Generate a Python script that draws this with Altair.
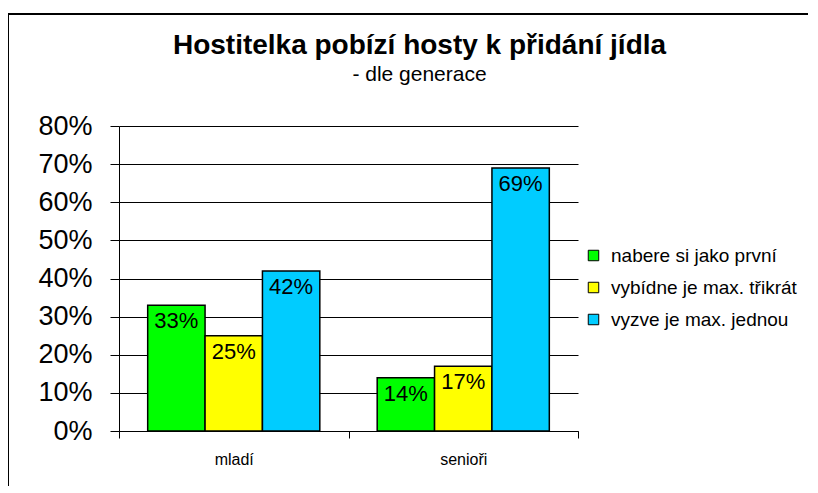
import altair as alt
import pandas as pd

categories = ["mladí", "senioři"]
series = ["nabere si jako první", "vybídne je max. třikrát", "vyzve je max. jednou"]
values_mladi = [0.33, 0.25, 0.42]
values_seniori = [0.14, 0.17, 0.69]
colors = ["#00FF00", "#FFFF00", "#00CCFF"]
y_ticks = [0, 0.1, 0.2, 0.3, 0.4, 0.5, 0.6, 0.7, 0.8]

rows = []
for cat, vals in zip(categories, [values_mladi, values_seniori]):
    for s, v in zip(series, vals):
        rows.append({"gen": cat, "serie": s, "value": v})
df = pd.DataFrame(rows)

FONT = "Liberation Sans"

base = alt.Chart(df).encode(
    x=alt.X("gen:N", sort=categories, title=None,
            scale=alt.Scale(paddingInner=0, paddingOuter=0),
            axis=alt.Axis(labelAngle=0, tickBand="extent", tickSize=7, tickColor="black",
                          domainColor="black", labelFont=FONT, labelFontSize=16,
                          labelColor="black", labelPadding=13, grid=False)),
    xOffset=alt.XOffset("serie:N", sort=series,
                        scale=alt.Scale(paddingInner=0, paddingOuter=0.5)),
    y=alt.Y("value:Q", title=None,
            scale=alt.Scale(domain=[0, 0.8], nice=False),
            axis=alt.Axis(values=y_ticks, tickCount=9, format=".0%", tickSize=9,
                          tickColor="black", domainColor="black", gridColor="black",
                          gridOpacity=1, labelFont=FONT, labelFontSize=27,
                          labelColor="black", labelPadding=18, labelOverlap=False)),
)

bars = base.mark_bar(stroke="black", strokeWidth=1.5).encode(
    color=alt.Color("serie:N", sort=series,
                    scale=alt.Scale(domain=series, range=colors),
                    legend=alt.Legend(title=None, orient="none", legendX=465, legendY=120,
                                      symbolType="square", symbolStrokeColor="black",
                                      symbolStrokeWidth=1, symbolSize=110,
                                      labelFont=FONT, labelFontSize=19, labelColor="black",
                                      labelLimit=400, rowPadding=12, labelOffset=8)),
)

labels = base.mark_text(baseline="top", dy=6, font=FONT, fontSize=22, color="black").encode(
    text=alt.Text("value:Q", format=".0%"),
)

border_data = alt.Data(values=[{"k": 1}])
top_line = alt.Chart(border_data).mark_rule(color="black", strokeWidth=2).encode(
    x=alt.value(-111), x2=alt.value(700), y=alt.value(-112))
left_line = alt.Chart(border_data).mark_rule(color="black", strokeWidth=2).encode(
    x=alt.value(-111), y=alt.value(-112), y2=alt.value(380))

chart = alt.layer(bars, labels, top_line, left_line).properties(
    width=459, height=305,
    autosize=alt.AutoSizeParams(type="none"),
    padding={"left": 111, "top": 118, "right": 230, "bottom": 55},
    title=alt.TitleParams(
        text="Hostitelka pobízí hosty k přidání jídla",
        subtitle="- dle generace",
        anchor="middle", frame="group", dx=71, offset=-72,
        font=FONT, fontSize=28, fontWeight="bold", color="black",
        subtitleFont=FONT, subtitleFontSize=21, subtitleColor="black",
        subtitlePadding=4,
    ),
).configure_view(stroke=None).configure_axis(gridWidth=1)

chart.save("out.html", embed_options={"renderer": "svg", "actions": False})
